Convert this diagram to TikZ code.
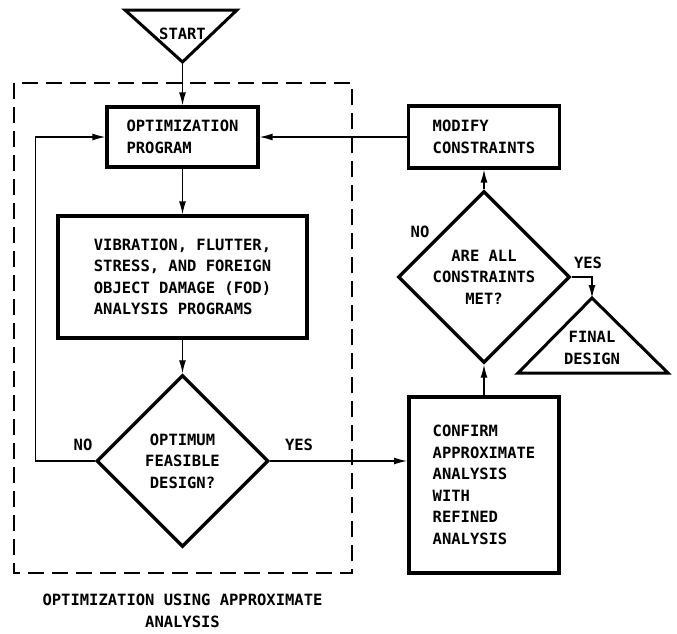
\documentclass[tikz,border=0pt]{standalone}
\usepackage{fontspec}
\setmainfont{DejaVu Sans Mono}
\usetikzlibrary{shapes.geometric,arrows.meta}

\begin{document}
\begin{tikzpicture}[x=1pt, y=-1pt, font=\fontsize{15.5}{21.5}\selectfont\bfseries]
    \tikzstyle{box} = [rectangle, draw, line width=3.2pt, align=left, inner sep=0pt]
    \tikzstyle{decision} = [diamond, draw, line width=3.4pt, align=center, inner sep=0pt, aspect=1, minimum width=172pt, minimum height=172pt]
    \tikzstyle{arrow} = [line width=1.3pt, -{Latex[length=13pt, width=7pt]}]
    \tikzstyle{term} = [line width=3pt, line join=miter]
    \useasboundingbox (0,0) rectangle (677,633);

    % approximate analysis loop
    \draw[line width=1.4pt, dash pattern=on 16pt off 8pt] (14,83) rectangle (352,573);
    \draw[term] (125,10) -- (237,10) -- (182.5,62) -- cycle;
    \node (start) at (182.5,34) {START};
    \coordinate (startapex) at (182.5,62);

    \node[box, minimum width=151pt, minimum height=60pt] (opt) at (182.5,137) {OPTIMIZATION\\PROGRAM};
    \node[box, minimum width=249pt, minimum height=122pt] (vib) at (182.5,277) {VIBRATION, FLUTTER,\\STRESS, AND FOREIGN\\OBJECT DAMAGE (FOD)\\ANALYSIS PROGRAMS};
    \node[decision] (feas) at (182.5,461) {OPTIMUM\\FEASIBLE\\DESIGN?};
    \node[align=center] (caption) at (182.5,611) {OPTIMIZATION USING APPROXIMATE\\ANALYSIS};

    % refined analysis
    \node[box, line width=4pt, minimum width=150pt, minimum height=176pt] (confirm) at (484,485) {CONFIRM\\APPROXIMATE\\ANALYSIS\\WITH\\REFINED\\ANALYSIS};
    \node[decision] (check) at (484,277) {ARE ALL\\CONSTRAINTS\\MET?};
    \node[box, minimum width=151pt, minimum height=62pt] (modify) at (484,137) {MODIFY\\CONSTRAINTS};
    \draw[term] (592,298) -- (668,373) -- (518,373) -- cycle;
    \node[align=center] (final) at (592,348) {FINAL\\DESIGN};
    \coordinate (finalapex) at (592,298);

    \node (feasno) at (83,445) {NO};
    \node (feasyes) at (299,445) {YES};
    \node (checkno) at (420,232) {NO};
    \node (checkyes) at (588,263) {YES};

    \draw[arrow] (startapex) -- (opt);
    \draw[arrow] (opt) -- (vib);
    \draw[arrow] (vib) -- (feas);
    \draw[arrow] (feas.west) -- ++(-59,0) |- (opt.west);
    \draw[arrow] (feas.east) -- (feas.east -| confirm.west);
    \draw[arrow] (confirm) -- (check);
    \draw[arrow] (check) -- (modify);
    \draw[arrow] (modify) -- (opt);
    \draw[arrow] (check.east) -| (finalapex);
\end{tikzpicture}
\end{document}
